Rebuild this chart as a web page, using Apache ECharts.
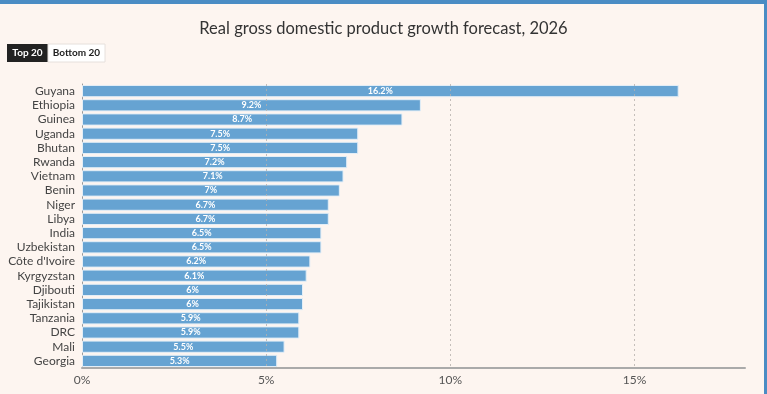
<!DOCTYPE html>
<html><head><meta charset="utf-8">
<script src="https://cdn.jsdelivr.net/npm/echarts@6/dist/echarts.min.js"></script>
<style>html,body{margin:0;padding:0;background:#fdf5f0;}#c{width:767px;height:394px;}</style>
</head><body><div id="c"></div>
<script>
const countries = ["Guyana","Ethiopia","Guinea","Uganda","Bhutan","Rwanda","Vietnam","Benin","Niger","Libya","India","Uzbekistan","Côte d'Ivoire","Kyrgyzstan","Djibouti","Tajikistan","Tanzania","DRC","Mali","Georgia"];
const growth = [16.2,9.2,8.7,7.5,7.5,7.2,7.1,7,6.7,6.7,6.5,6.5,6.2,6.1,6,6,5.9,5.9,5.5,5.3];
const xTicks = [0,5,10,15];
const gridTicks = [5,10,15];
const titleText = "Real gross domestic product growth forecast, 2026";

const chart = echarts.init(document.getElementById('c'));
const font = 'Lato, "Open Sans", sans-serif';
chart.setOption({
  backgroundColor: '#fdf5f0',
  animation: false,
  title: {text: titleText, left: 'center', top: 15,
    textStyle: {fontFamily: font, fontWeight: 'normal', fontSize: 16.5, color: '#333'}},
  graphic: [
    {type:'rect', shape:{x:0,y:0,width:767,height:4}, style:{fill:'#4a8cc4'}},
    {type:'rect', shape:{x:764,y:0,width:3,height:394}, style:{fill:'#4a8cc4'}},
    {type:'rect', shape:{x:7,y:44,width:41,height:18}, style:{fill:'#222'}},
    {type:'text', x:27.5, y:53, style:{text:'Top 20', fill:'#fff', font:'bold 10px '+font, align:'center', verticalAlign:'middle'}},
    {type:'rect', shape:{x:48,y:44,width:57,height:18}, style:{fill:'#fff', stroke:'#e6e0dc', lineWidth:1}},
    {type:'text', x:76.5, y:53, style:{text:'Bottom 20', fill:'#222', font:'bold 10px '+font, align:'center', verticalAlign:'middle'}}
  ],
  grid: {left: 82, right: 22, top: 84, bottom: 26, containLabel: false},
  xAxis: {type: 'value', min: 0, max: 18, interval: 5,
    axisLine: {show: true, lineStyle: {color: '#aaa', width: 2}},
    axisTick: {show: false},
    axisLabel: {color: '#555', fontFamily: font, fontSize: 12, margin: 6,
      formatter: v => xTicks.includes(v) ? v + '%' : ''},
    splitLine: {show: false}
  },
  yAxis: {type: 'category', data: countries, inverse: true,
    axisLine: {show: true, lineStyle: {color: '#999', width: 1}},
    axisTick: {show: false},
    axisLabel: {color: '#444', fontFamily: font, fontSize: 12, margin: 7, interval: 0}
  },
  series: [{
    type: 'bar', data: growth, barCategoryGap: '14%',
    itemStyle: {color: '#66a3d2', borderColor: '#e3eef7', borderWidth: 1},
    label: {show: true, position: 'inside', color: '#fff', fontFamily: font, fontWeight: 'bold', fontSize: 9,
      formatter: p => p.value + '%'},
    markLine: {silent: true, symbol: 'none', label: {show: false},
      lineStyle: {color: '#b5b0ac', type: [2,3], width: 1, opacity: 0.8},
      data: gridTicks.map(v => ({xAxis: v}))}
  }]
});
</script></body></html>
